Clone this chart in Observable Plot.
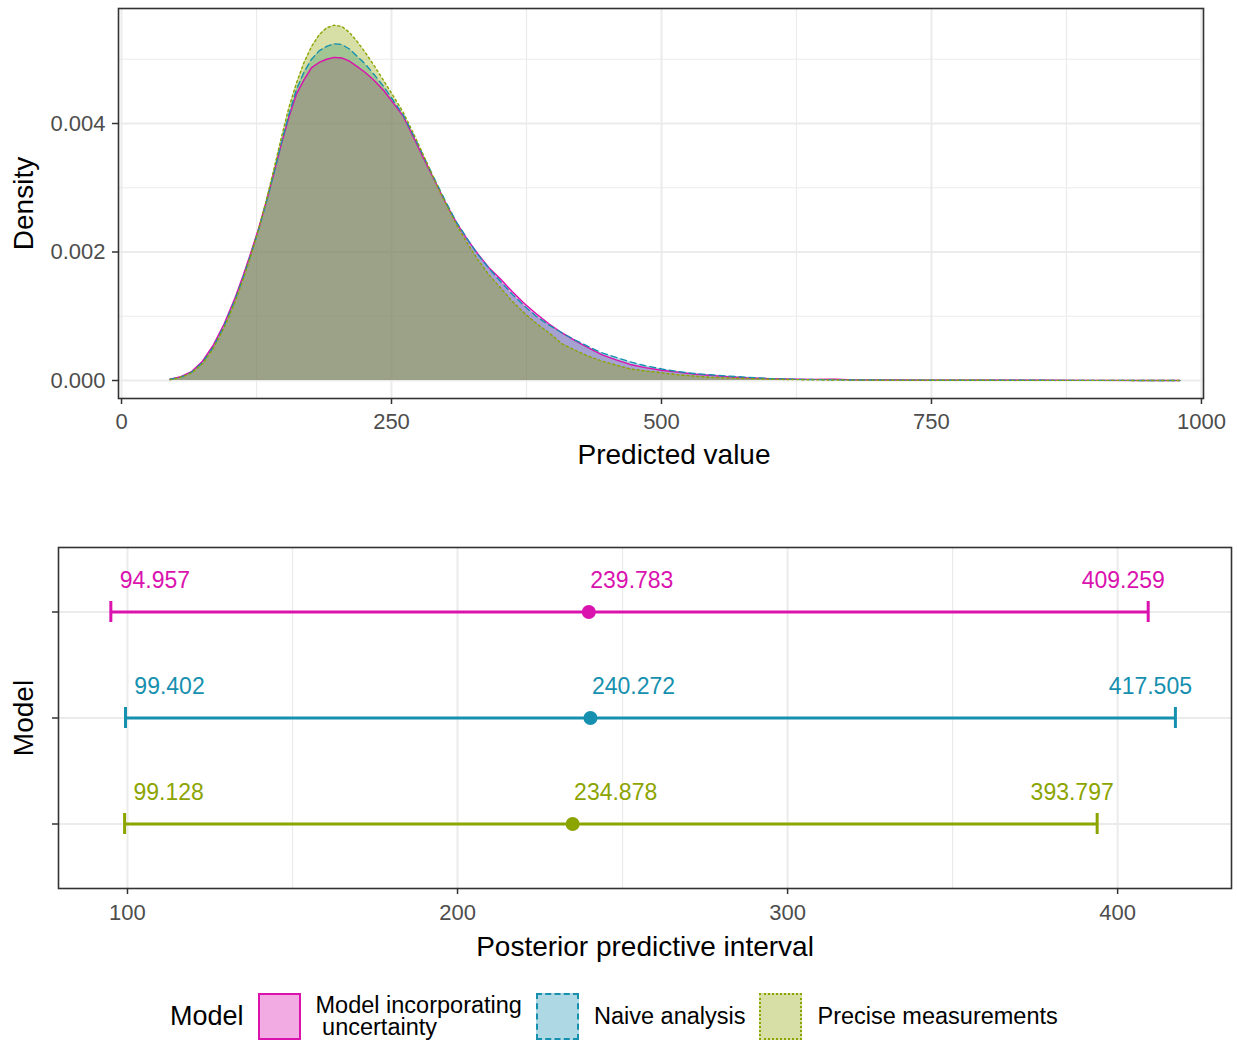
<!DOCTYPE html>
<html><head><meta charset="utf-8">
<script src="https://cdn.jsdelivr.net/npm/d3@7"></script>
<script src="https://cdn.jsdelivr.net/npm/@observablehq/plot@0.6"></script>
<style>
body{margin:0;background:#fff;font-family:"Liberation Sans",Arial,sans-serif;}
#wrap{position:relative;width:1237px;height:1040px;overflow:hidden;}
#top{position:absolute;left:0;top:0;}
#bottom{position:absolute;left:0;top:470px;}
#legend{position:absolute;left:170px;top:992px;display:flex;align-items:center;height:48px;color:#000;}
#legend .title{font-size:27px;margin-right:14px;}
#legend .key{width:39px;height:43px;box-sizing:content-box;margin-right:15px;}
#legend .lab{font-size:23.5px;line-height:22px;white-space:pre;margin-right:14px;}
</style></head><body>
<div id="wrap"><div id="top"></div><div id="bottom"></div><div id="legend"></div></div>
<script>
// ---------- data ----------
const models = ["Model incorporating uncertainty", "Naive analysis", "Precise measurements"];
const legendLabels = ["Model incorporating\n uncertainty", "Naive analysis", "Precise measurements"];
const colors = ["#DA12AE", "#1690AF", "#8CA400"];
const dashes = ["none", "6,4", "2,3"];
const borderStyles = ["solid", "dashed", "dotted"];

const predicted = [45, 55, 65, 75, 85, 95, 105, 113, 120, 127, 134, 141, 148, 155, 162, 169, 176, 183, 190, 197, 204, 211, 218, 226, 234, 243, 252, 261, 270, 280, 290, 300, 310, 320, 330, 340, 351, 362, 373, 384, 396, 408, 420, 432, 445, 458, 471, 485, 500, 515, 530, 545, 560, 580, 600, 620, 640, 660, 680, 700, 750, 800, 850, 900, 950, 980];
const densUncertainty = [0.00002, 0.00006, 0.00014, 0.00030, 0.00055, 0.00088, 0.00128, 0.00165, 0.00200, 0.00237, 0.00278, 0.00322, 0.00368, 0.00410, 0.00446, 0.00468, 0.00487, 0.00495, 0.00500, 0.00503, 0.00502, 0.00497, 0.00489, 0.00479, 0.00467, 0.00451, 0.00431, 0.00411, 0.00380, 0.00345, 0.00311, 0.00277, 0.00246, 0.00220, 0.00197, 0.00176, 0.00158, 0.00138, 0.00120, 0.00104, 0.00088, 0.00074, 0.00062, 0.00051, 0.00040, 0.00032, 0.00025, 0.00020, 0.00016, 0.00013, 0.00010, 0.00008, 0.00006, 0.00004, 0.00003, 0.00002, 0.000017, 0.00002, 0.00001, 0.000008, 0.000005, 0.000004, 0.000003, 0.000002, 0.000001, 0.0000005];
const densNaive = [0.00002, 0.00005, 0.00013, 0.00028, 0.00052, 0.00085, 0.00125, 0.00162, 0.00197, 0.00235, 0.00277, 0.00322, 0.00370, 0.00414, 0.00453, 0.00480, 0.00500, 0.00513, 0.00520, 0.00524, 0.00523, 0.00516, 0.00505, 0.00492, 0.00476, 0.00457, 0.00435, 0.00413, 0.00383, 0.00348, 0.00313, 0.00279, 0.00247, 0.00221, 0.00196, 0.00175, 0.00154, 0.00134, 0.00116, 0.00100, 0.00086, 0.00074, 0.00063, 0.00053, 0.00043, 0.00036, 0.00029, 0.00023, 0.00018, 0.00014, 0.00011, 0.00009, 0.00007, 0.00005, 0.00003, 0.00002, 0.000015, 0.00001, 0.000008, 0.000007, 0.000005, 0.000004, 0.000003, 0.000002, 0.000001, 0.0000005];
const densPrecise = [0.00001, 0.00005, 0.00012, 0.00026, 0.00050, 0.00082, 0.00122, 0.00159, 0.00196, 0.00236, 0.00280, 0.00328, 0.00378, 0.00425, 0.00463, 0.00495, 0.00520, 0.00538, 0.00549, 0.00553, 0.00551, 0.00542, 0.00528, 0.00510, 0.00490, 0.00466, 0.00442, 0.00417, 0.00386, 0.00349, 0.00312, 0.00276, 0.00243, 0.00214, 0.00188, 0.00165, 0.00144, 0.00123, 0.00105, 0.00089, 0.00074, 0.00057, 0.00047, 0.00038, 0.00030, 0.00024, 0.00018, 0.00015, 0.00012, 0.00009, 0.00007, 0.00005, 0.00004, 0.00003, 0.00002, 0.000015, 0.00001, 0.000008, 0.000006, 0.000005, 0.000004, 0.000003, 0.000002, 0.000002, 0.000001, 0.0000005];

const lower = [94.957, 99.402, 99.128];
const median = [239.783, 240.272, 234.878];
const upper = [409.259, 417.505, 393.797];

const topXTicks = [0, 250, 500, 750, 1000];
const topXMinor = [125, 375, 625, 875];
const topYTicks = [0, 0.002, 0.004];
const topYMinor = [0.001, 0.003, 0.005];
const botXTicks = [100, 200, 300, 400];
const botXMinor = [150, 250, 350];

// ---------- build tables ----------
const densRows = [];
[densUncertainty, densNaive, densPrecise].forEach((arr, k) =>
  arr.forEach((d, i) => densRows.push({model: models[k], x: predicted[i], y: d})));
const intRows = models.map((m, i) => ({model: m, lower: lower[i], median: median[i], upper: upper[i]}));

const font = '"Liberation Sans", Arial, sans-serif';
const grid = "#EBEBEB";
const fmt3 = d3.format(".3f");
const alpha = 0.35;

// ---------- top: density ----------
const topPlot = Plot.plot({
  width: 1237, height: 470,
  marginLeft: 118, marginRight: 34, marginTop: 8, marginBottom: 72,
  style: {fontFamily: font, background: "white", overflow: "visible"},
  x: {domain: [-2.8, 1001.9], label: null},
  y: {domain: [-0.00028, 0.00579], label: null},
  color: {domain: models, range: colors},
  marks: [
    Plot.gridX(topXMinor, {stroke: grid, strokeOpacity: 1, strokeWidth: 1.2}),
    Plot.gridY(topYMinor, {stroke: grid, strokeOpacity: 1, strokeWidth: 1.2}),
    Plot.gridX(topXTicks, {stroke: grid, strokeOpacity: 1, strokeWidth: 2}),
    Plot.gridY(topYTicks, {stroke: grid, strokeOpacity: 1, strokeWidth: 2}),
    Plot.areaY(densRows, {x: "x", y1: 0, y2: "y", z: "model", fill: "model", fillOpacity: alpha}),
    ...models.map((m, k) => Plot.lineY(densRows.filter(d => d.model === m),
      {x: "x", y: "y", stroke: colors[k], strokeWidth: 1.4, strokeDasharray: dashes[k]})),
    Plot.frame({stroke: "#333", strokeWidth: 1.6}),
    Plot.axisX(topXTicks, {tickSize: 6, tickFormat: () => "", color: "#333", strokeWidth: 1.5, label: null}),
    Plot.axisX(topXTicks, {tickSize: 0, tickPadding: 15, fontSize: 22, color: "#4D4D4D", tickFormat: d => String(d), label: null}),
    Plot.axisY(topYTicks, {tickSize: 6, tickFormat: () => "", color: "#333", strokeWidth: 1.5, label: null}),
    Plot.axisY(topYTicks, {tickSize: 0, tickPadding: 13, fontSize: 22, color: "#4D4D4D", tickFormat: fmt3, label: null}),
    Plot.text(["Predicted value"], {frameAnchor: "bottom", lineAnchor: "middle", textAnchor: "middle", dx: 13, dy: 57, fontSize: 28, fill: "black"}),
    Plot.text(["Density"], {frameAnchor: "left", lineAnchor: "middle", textAnchor: "middle", dx: -94, rotate: -90, fontSize: 28, fill: "black"})
  ]
});
document.getElementById("top").appendChild(topPlot);

// ---------- bottom: intervals ----------
const botPlot = Plot.plot({
  width: 1237, height: 510,
  marginLeft: 58, marginRight: 6, marginTop: 77, marginBottom: 92,
  style: {fontFamily: font, background: "white", overflow: "visible"},
  x: {domain: [79.1, 434.5], label: null},
  y: {type: "band", domain: models, paddingInner: 0.8, paddingOuter: 0.5, label: null},
  color: {domain: models, range: colors},
  marks: [
    Plot.gridX(botXMinor, {stroke: grid, strokeOpacity: 1, strokeWidth: 1.2}),
    Plot.gridX(botXTicks, {stroke: grid, strokeOpacity: 1, strokeWidth: 2}),
    Plot.gridY({stroke: grid, strokeOpacity: 1, strokeWidth: 2}),
    Plot.ruleY(intRows, {y: "model", x1: "lower", x2: "upper", stroke: "model", strokeWidth: 3}),
    Plot.tickX(intRows, {x: "lower", y: "model", stroke: "model", strokeWidth: 3}),
    Plot.tickX(intRows, {x: "upper", y: "model", stroke: "model", strokeWidth: 3}),
    Plot.dot(intRows, {x: "median", y: "model", fill: "model", r: 7}),
    Plot.text(intRows, {x: "lower", y: "model", text: d => fmt3(d.lower), fill: "model", dx: 44, dy: -31, fontSize: 23}),
    Plot.text(intRows, {x: "median", y: "model", text: d => fmt3(d.median), fill: "model", dx: 43, dy: -31, fontSize: 23}),
    Plot.text(intRows, {x: "upper", y: "model", text: d => fmt3(d.upper), fill: "model", dx: -25, dy: -31, fontSize: 23}),
    Plot.frame({stroke: "#333", strokeWidth: 1.6}),
    Plot.axisX(botXTicks, {tickSize: 6, tickFormat: () => "", color: "#333", strokeWidth: 1.5, label: null}),
    Plot.axisX(botXTicks, {tickSize: 0, tickPadding: 16, fontSize: 22, color: "#4D4D4D", label: null}),
    Plot.axisY({tickSize: 6, tickFormat: () => "", color: "#333", strokeWidth: 1.5, label: null}),
    Plot.text(["Posterior predictive interval"], {frameAnchor: "bottom", lineAnchor: "middle", textAnchor: "middle", dy: 59, fontSize: 28, fill: "black"}),
    Plot.text(["Model"], {frameAnchor: "left", lineAnchor: "middle", textAnchor: "middle", dx: -34, rotate: -90, fontSize: 28, fill: "black"})
  ]
});
document.getElementById("bottom").appendChild(botPlot);

// ---------- legend ----------
const legend = document.getElementById("legend");
const t = document.createElement("div");
t.className = "title"; t.textContent = "Model";
legend.appendChild(t);
models.forEach((m, k) => {
  const key = document.createElement("div");
  key.className = "key";
  const c = d3.color(colors[k]);
  key.style.background = `rgba(${c.r},${c.g},${c.b},${alpha})`;
  key.style.border = `2px ${borderStyles[k]} ${colors[k]}`;
  legend.appendChild(key);
  const lab = document.createElement("div");
  lab.className = "lab";
  lab.textContent = legendLabels[k];
  legend.appendChild(lab);
});
</script>
</body></html>
